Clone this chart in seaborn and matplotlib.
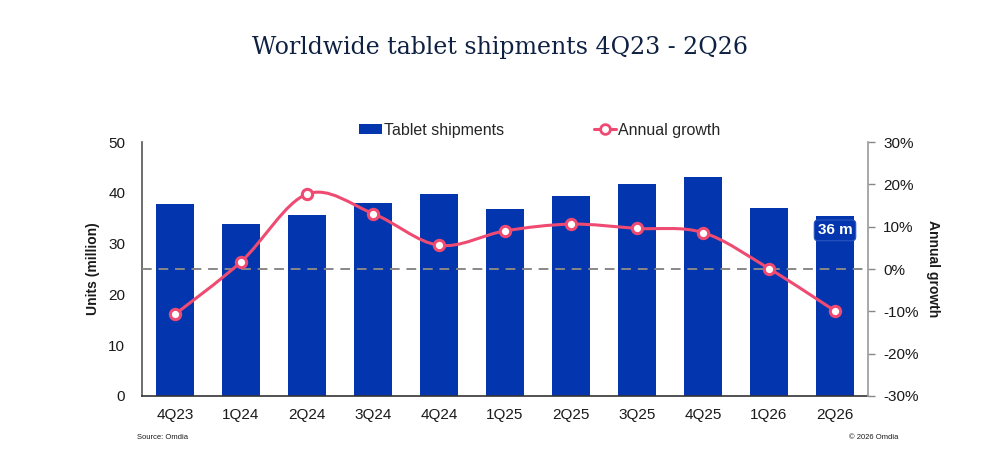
import numpy as np
import pandas as pd
import matplotlib
matplotlib.use("Agg")
import matplotlib.pyplot as plt
from matplotlib.path import Path
from matplotlib.patches import PathPatch, Patch
from matplotlib.lines import Line2D
from matplotlib.ticker import FuncFormatter
import seaborn as sns

# ---- data ----
quarters = ["4Q23", "1Q24", "2Q24", "3Q24", "4Q24", "1Q25", "2Q25", "3Q25", "4Q25", "1Q26", "2Q26"]
shipments = [37.7, 33.9, 35.6, 38.0, 39.8, 36.8, 39.4, 41.7, 43.2, 37.0, 35.5]
growth = [-10.7, 1.7, 17.7, 13.1, 5.6, 9.0, 10.6, 9.6, 8.6, 0.1, -9.9]
left_ticks = [0, 10, 20, 30, 40, 50]
right_ticks = [-30, -20, -10, 0, 10, 20, 30]
last_label = "36 m"

BLUE = "#0336AE"
PINK = "#EF4B72"
DARK = "#1a1a1a"

sns.set_theme(style="white")
plt.rcParams["font.family"] = ["Liberation Sans", "DejaVu Sans"]

fig = plt.figure(figsize=(10, 4.65), dpi=100)
ax = fig.add_axes([0.142, 0.1484, 0.726, 0.5462])

df = pd.DataFrame({"quarter": quarters, "shipments": shipments})
sns.barplot(data=df, x="quarter", y="shipments", color=BLUE, saturation=1,
            width=0.58, linewidth=0, ax=ax)
ax.set_xlim(-0.5, len(quarters) - 0.5)
ax.set_ylim(0, 50)
ax.set_yticks(left_ticks)
ax.set_xlabel("")
ax.set_ylabel("Units (million)", fontsize=10, fontweight="bold", color=DARK, labelpad=6)
ax.tick_params(axis="both", length=0, labelsize=11, colors=DARK)
ax.tick_params(axis="x", pad=9)
ax.tick_params(axis="y", pad=12)
for s in ["top", "right"]:
    ax.spines[s].set_visible(False)
ax.spines["left"].set_color("#555555")
ax.spines["left"].set_linewidth(1.2)
ax.spines["bottom"].set_color("#333333")
ax.spines["bottom"].set_linewidth(1.2)

# label on last bar
ax.text(len(quarters) - 1, shipments[-1] - 2.9, last_label, color="white",
        fontsize=11, fontweight="bold", ha="center", va="center",
        bbox=dict(boxstyle="round,pad=0.22,rounding_size=0.25", fc=BLUE, ec="#2a55c0", lw=0.8))

ax2 = ax.twinx()
ax2.set_ylim(-30, 30)
ax2.set_yticks(right_ticks)
ax2.yaxis.set_major_formatter(FuncFormatter(lambda v, p: f"{int(v)}%"))
ax2.tick_params(axis="y", length=5, width=1, color="#888888", labelsize=11, colors=DARK, pad=6)
ax2.tick_params(axis="y", color="#888888")
for s in ["top", "left", "bottom"]:
    ax2.spines[s].set_visible(False)
ax2.spines["right"].set_color("#999999")
ax2.spines["right"].set_linewidth(1.2)
ax2.set_ylabel("Annual growth", fontsize=10, fontweight="bold", color=DARK,
               rotation=-90, labelpad=15)
ax2.axhline(0, color="#888888", lw=1.4, ls=(0, (5, 3.5)), zorder=1)

# smoothed line (Catmull-Rom to Bezier) through the data points
xs = np.arange(len(growth), dtype=float)
ys = np.asarray(growth, dtype=float)
verts = [(xs[0], ys[0])]
codes = [Path.MOVETO]
n = len(xs)
for i in range(n - 1):
    p0 = np.array([xs[max(i - 1, 0)], ys[max(i - 1, 0)]])
    p1 = np.array([xs[i], ys[i]])
    p2 = np.array([xs[i + 1], ys[i + 1]])
    p3 = np.array([xs[min(i + 2, n - 1)], ys[min(i + 2, n - 1)]])
    c1 = p1 + (p2 - p0) / 6.0
    c2 = p2 - (p3 - p1) / 6.0
    verts += [tuple(c1), tuple(c2), tuple(p2)]
    codes += [Path.CURVE4] * 3
ax2.add_patch(PathPatch(Path(verts, codes), fc="none", ec=PINK, lw=2.2, zorder=3))
sns.scatterplot(x=xs, y=ys, ax=ax2, s=55, color="white", edgecolor=PINK,
                linewidth=2.2, zorder=4, legend=False)

# legend
handles = [Patch(facecolor=BLUE, edgecolor="none"),
           Line2D([0], [0], color=PINK, lw=2.2, marker="o", markersize=7,
                  markerfacecolor="white", markeredgecolor=PINK, markeredgewidth=2)]
fig.legend(handles, ["Tablet shipments", "Annual growth"], loc="center",
           bbox_to_anchor=(0.54, 0.72), ncol=2, frameon=False, fontsize=11.5,
           handlelength=1.4, handleheight=0.6, handletextpad=0.15, columnspacing=5.6)

fig.text(0.5, 0.897, "Worldwide tablet shipments 4Q23 - 2Q26", ha="center", va="center",
         fontsize=17, color="#0f2142", family=["DejaVu Serif"])
fig.text(0.137, 0.06, "Source: Omdia", fontsize=5.5, color=DARK, ha="left", va="center")
fig.text(0.898, 0.06, "\u00a9 2026 Omdia", fontsize=5.5, color=DARK, ha="right", va="center")

fig.savefig("out.png", dpi=100, facecolor="white")
